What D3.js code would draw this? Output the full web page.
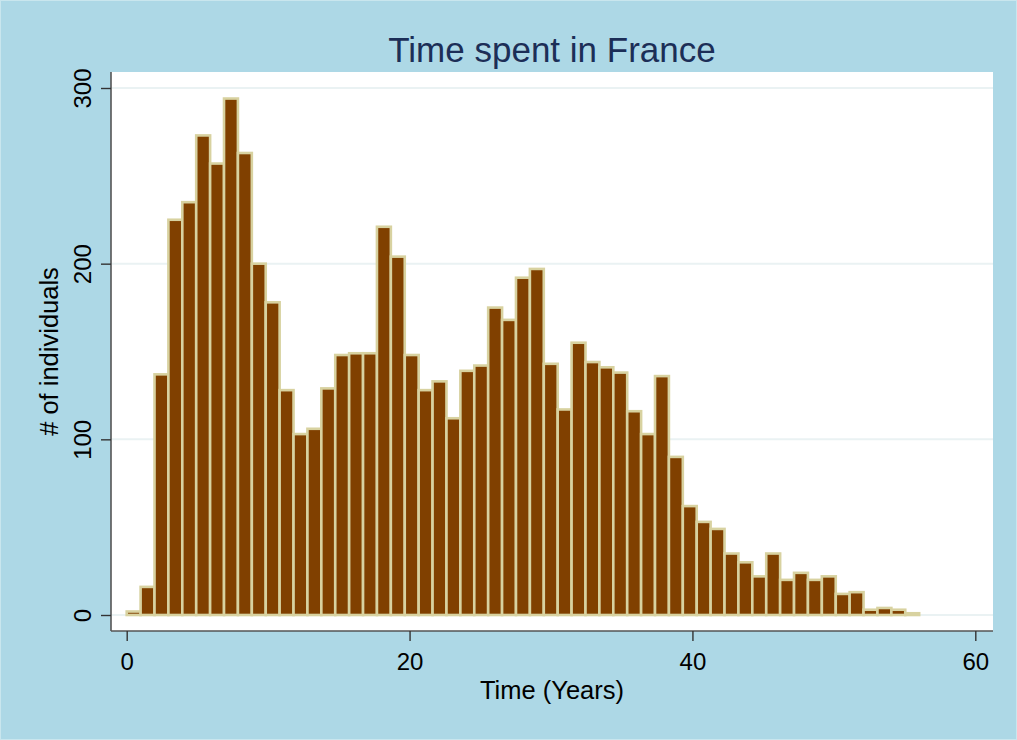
<!DOCTYPE html>
<html>
<head>
<meta charset="utf-8">
<script src="https://cdn.jsdelivr.net/npm/d3@7"></script>
<style>
  html, body { margin: 0; padding: 0; background: #add8e6; }
  svg { display: block; }
  text { font-family: "Liberation Sans", Arial, Helvetica, sans-serif; }
</style>
</head>
<body>
<script>
// ---- data ----
const title = "Time spent in France";
const xTitle = "Time (Years)";
const yTitle = "# of individuals";
const binStart = 0;
const binWidth = 0.983;
const counts = [2, 16, 137, 225, 235, 273, 257, 294, 263, 200,
                178, 128, 103, 106, 129, 148, 149, 149, 221, 204,
                148, 128, 133, 112, 139, 142, 175, 168, 192, 197,
                143, 117, 155, 144, 141, 138, 116, 103, 136, 90,
                62, 53, 49, 35, 30, 22, 35, 20, 24, 20,
                22, 12, 13, 3, 4, 3, 1];
const xTicks = [0, 20, 40, 60];
const yTicks = [0, 100, 200, 300];

// ---- layout ----
const W = 1017, H = 740;
const plot = { left: 111, right: 993, top: 72, bottom: 631 };

const svg = d3.select("body").append("svg").attr("width", W).attr("height", H);

svg.append("rect").attr("x", 0).attr("y", 0).attr("width", W).attr("height", H)
  .attr("fill", "#add8e6").attr("stroke", "#c9e6ee").attr("stroke-width", 2);

const x = d3.scaleLinear().domain([0, 60]).range([126.7, 975.3]);
const y = d3.scaleLinear().domain([0, 300]).range([615, 88]);

// plot region
svg.append("rect")
  .attr("x", plot.left).attr("y", plot.top)
  .attr("width", plot.right - plot.left).attr("height", plot.bottom - plot.top)
  .attr("fill", "#ffffff");

// gridlines
svg.append("g").selectAll("line").data(yTicks).join("line")
  .attr("x1", plot.left).attr("x2", plot.right)
  .attr("y1", d => y(d)).attr("y2", d => y(d))
  .attr("stroke", "#eaf2f3").attr("stroke-width", 2);

// bars
const bins = counts.map((c, i) => ({
  x0: binStart + i * binWidth,
  x1: binStart + (i + 1) * binWidth,
  count: c
}));
svg.append("g").selectAll("rect").data(bins).join("rect")
  .attr("x", d => x(d.x0))
  .attr("width", d => x(d.x1) - x(d.x0))
  .attr("y", d => y(d.count))
  .attr("height", d => y(0) - y(d.count))
  .attr("fill", "#804000")
  .attr("stroke", "#d8d2a0")
  .attr("stroke-width", 2.6);

// axes lines
const axisColor = "#555555";
svg.append("line").attr("x1", plot.left).attr("x2", plot.left)
  .attr("y1", plot.top).attr("y2", plot.bottom)
  .attr("stroke", axisColor).attr("stroke-width", 1.6);
svg.append("line").attr("x1", plot.left).attr("x2", plot.right)
  .attr("y1", plot.bottom).attr("y2", plot.bottom)
  .attr("stroke", axisColor).attr("stroke-width", 1.6);

// y axis ticks
const yAxis = d3.axisLeft(y).tickValues(yTicks).tickSize(10).tickPadding(0);
const gy = svg.append("g").attr("transform", `translate(${plot.left},0)`).call(yAxis);
gy.select(".domain").remove();
gy.selectAll(".tick line").attr("stroke", "#333").attr("stroke-width", 1.4);
gy.selectAll(".tick text")
  .attr("x", null).attr("dy", null)
  .attr("transform", "translate(-20.5,0) rotate(-90)")
  .attr("text-anchor", "middle")
  .attr("font-size", 24)
  .attr("fill", "#000")
  .style("font-family", '"Liberation Sans", Arial, sans-serif');

// x axis ticks
const xAxis = d3.axisBottom(x).tickValues(xTicks).tickSize(10).tickPadding(0);
const gx = svg.append("g").attr("transform", `translate(0,${plot.bottom})`).call(xAxis);
gx.select(".domain").remove();
gx.selectAll(".tick line").attr("stroke", "#333").attr("stroke-width", 1.4);
gx.selectAll(".tick text")
  .attr("y", 39).attr("dy", null)
  .attr("font-size", 24)
  .attr("fill", "#000")
  .style("font-family", '"Liberation Sans", Arial, sans-serif');

// titles
svg.append("text")
  .attr("x", (plot.left + plot.right) / 2).attr("y", 62)
  .attr("text-anchor", "middle")
  .attr("font-size", 35)
  .attr("fill", "#1c2e57")
  .text(title);

svg.append("text")
  .attr("x", (plot.left + plot.right) / 2).attr("y", 699)
  .attr("text-anchor", "middle")
  .attr("font-size", 25.5)
  .attr("fill", "#000")
  .text(xTitle);

svg.append("text")
  .attr("transform", `translate(58,${(plot.top + plot.bottom) / 2}) rotate(-90)`)
  .attr("text-anchor", "middle")
  .attr("font-size", 25.5)
  .attr("fill", "#000")
  .text(yTitle);
</script>
</body>
</html>
